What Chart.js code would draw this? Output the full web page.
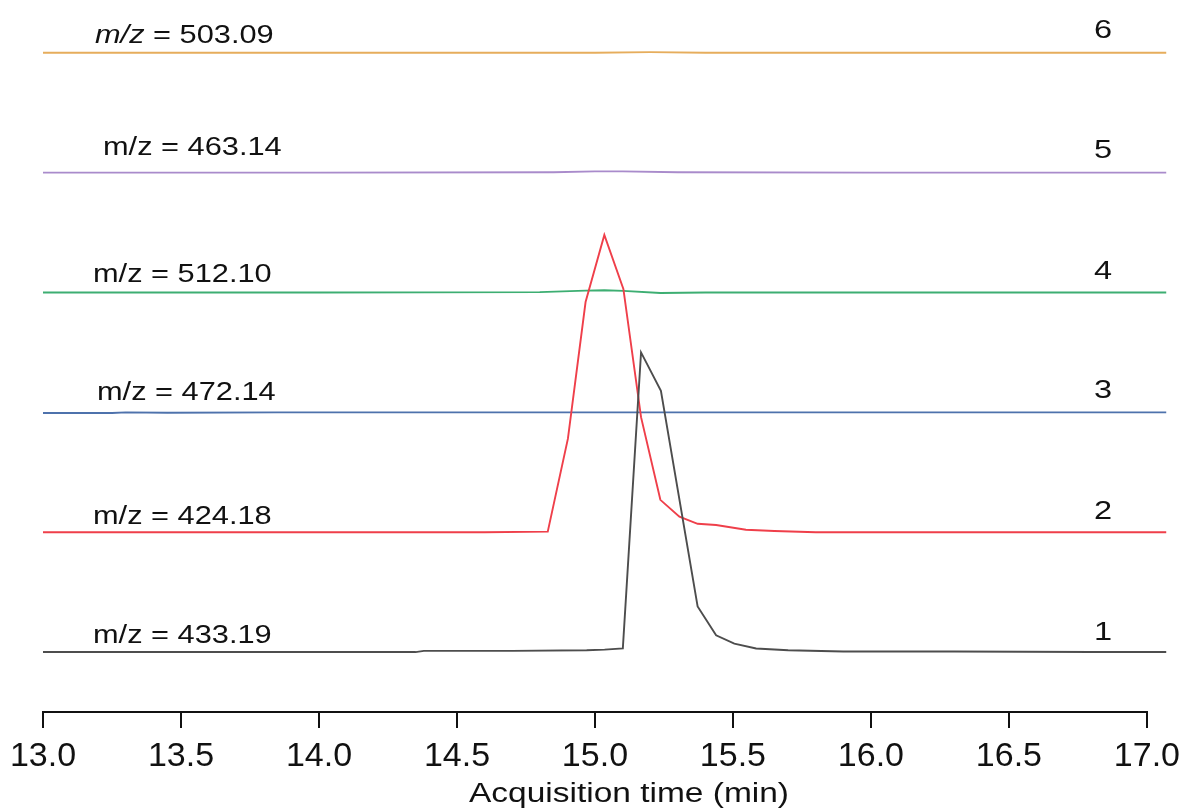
<!DOCTYPE html>
<html>
<head>
<meta charset="utf-8">
<script src="https://cdn.jsdelivr.net/npm/chart.js@4.4.1/dist/chart.umd.min.js"></script>
<style>
  html, body { margin: 0; padding: 0; background: #fff; }
  #wrap { width: 1188px; height: 811px; }
</style>
</head>
<body>
<div id="wrap"><canvas id="chrom" width="1188" height="811"></canvas></div>
<script>
// extracted ion chromatograms, stacked bottom (1) to top (6)
// times in min, intensities in relative units (100 = gap between traces)
const time1 = [13.00, 13.50, 14.00, 14.35, 14.38, 14.70, 14.97, 15.035, 15.101, 15.167, 15.239, 15.372, 15.439, 15.505, 15.584, 15.70, 15.90, 16.30, 16.80, 17.07];
const int1  = [0, 0, 0, 0, 1, 1, 1.5, 2, 3, 250, 218, 38, 14, 7, 3, 1.5, 0.5, 0.5, 0, 0];

const time2 = [13.00, 13.60, 14.20, 14.60, 14.829, 14.902, 14.966, 15.034, 15.103, 15.167, 15.237, 15.306, 15.372, 15.439, 15.547, 15.65, 15.80, 16.40, 17.07];
const int2  = [0, 0, 0, 0, 0.5, 78, 192, 248, 203, 96, 27, 13, 7, 6, 2, 1, 0, 0, 0];

const time3 = [13.00, 13.25, 13.30, 13.45, 13.85, 14.50, 15.00, 15.50, 16.00, 16.50, 17.07];
const int3  = [-0.5, -0.5, 0, -0.4, 0, 0, 0, 0, 0, 0, 0];

const time4 = [13.00, 14.00, 14.80, 14.966, 15.034, 15.103, 15.237, 15.40, 16.00, 17.07];
const int4  = [0, 0, 0.3, 1.5, 1.8, 1.3, -0.5, 0, 0, 0];

const time5 = [13.00, 14.00, 14.85, 15.00, 15.10, 15.30, 16.00, 17.07];
const int5  = [0, 0, 0.3, 1, 1, 0.3, 0, 0];

const time6 = [13.00, 14.00, 15.00, 15.20, 15.40, 16.00, 17.07];
const int6  = [0, 0, 0, 0.5, 0, 0, 0];

const mzLabels = ['m/z = 433.19', 'm/z = 424.18', 'm/z = 472.14', 'm/z = 512.10', 'm/z = 463.14', 'm/z = 503.09'];
const traceNums = ['1', '2', '3', '4', '5', '6'];
const traceColors = ['#4d4d4d', '#ef3f4a', '#4e72ac', '#3dae72', '#a98bcb', '#e6ad5c'];
const xTicks = [13.0, 13.5, 14.0, 14.5, 15.0, 15.5, 16.0, 16.5, 17.0];

const offsetStep = 100;
const traces = [[time1, int1], [time2, int2], [time3, int3], [time4, int4], [time5, int5], [time6, int6]];

const FONT = "'Liberation Sans', Arial, sans-serif";

// label placement: left edge of m/z text, lift above baseline, lift of trace number
const labelLeft = [93, 93, 97, 93, 103, 95];
const labelLift = [16, 15, 19, 17, 24, 17];
const numLift = [19, 20, 22, 21, 22, 22];

function stretchText(ctx, parts, x, y, sx) {
    ctx.save();
    ctx.translate(x, y);
    ctx.scale(sx, 1);
    let cx = 0;
    parts.forEach(p => {
        ctx.font = p.font;
        ctx.fillText(p.text, cx, 0);
        cx += ctx.measureText(p.text).width;
    });
    ctx.restore();
}

const textPlugin = {
    id: 'traceText',
    afterDraw(chart) {
        const ctx = chart.ctx;
        const yS = chart.scales.y;
        ctx.save();
        ctx.fillStyle = '#111';
        ctx.textBaseline = 'middle';
        mzLabels.forEach((lab, k) => {
            const base = yS.getPixelForValue(k * offsetStep);
            ctx.textAlign = 'left';
            let parts;
            if (k === 5) {//only the top label has italic m/z
                parts = [{text: 'm/z', font: 'italic 25px ' + FONT}, {text: lab.slice(3), font: '25px ' + FONT}];
            } else {
                parts = [{text: lab, font: '25px ' + FONT}];
            }
            stretchText(ctx, parts, labelLeft[k], base - labelLift[k], 1.23);

            ctx.textAlign = 'center';
            stretchText(ctx, [{text: traceNums[k], font: '26px ' + FONT}], 1103, base - numLift[k], 1.25);
        });
        ctx.textAlign = 'center';
        stretchText(ctx, [{text: 'Acquisition time (min)', font: '27px ' + FONT}], 629, 795, 1.24);
        ctx.restore();
    }
};

const datasets = traces.map((tr, k) => ({
    label: mzLabels[k],
    data: tr[0].map((t, i) => ({x: t, y: tr[1][i] + k * offsetStep})),
    borderColor: traceColors[k],
    borderWidth: 1.9,
    pointRadius: 0,
    tension: 0,
    fill: false,
    clip: false
}));

new Chart(document.getElementById('chrom').getContext('2d'), {
    type: 'line',
    data: {datasets: datasets},
    plugins: [textPlugin],
    options: {
        responsive: false,
        animation: false,
        devicePixelRatio: 1,
        layout: {padding: {left: 43, right: 40, top: 0, bottom: 0}},
        plugins: {legend: {display: false}, tooltip: {enabled: false}},
        scales: {
            x: {
                type: 'linear',
                min: 13,
                max: 17,
                afterBuildTicks: s => { s.ticks = xTicks.map(v => ({value: v})); },
                afterFit: s => { s.height = 99; },
                ticks: {
                    callback: v => Number(v).toFixed(1),
                    font: {family: FONT, size: 34},
                    color: '#111',
                    padding: 8,
                    maxRotation: 0,
                    autoSkip: false
                },
                grid: {drawOnChartArea: false, drawTicks: true, tickLength: 16, lineWidth: 2, tickWidth: 2, tickColor: '#111'},
                border: {display: true, color: '#111', width: 2}
            },
            y: {display: false, min: -50, max: 544}
        }
    }
});
</script>
</body>
</html>
